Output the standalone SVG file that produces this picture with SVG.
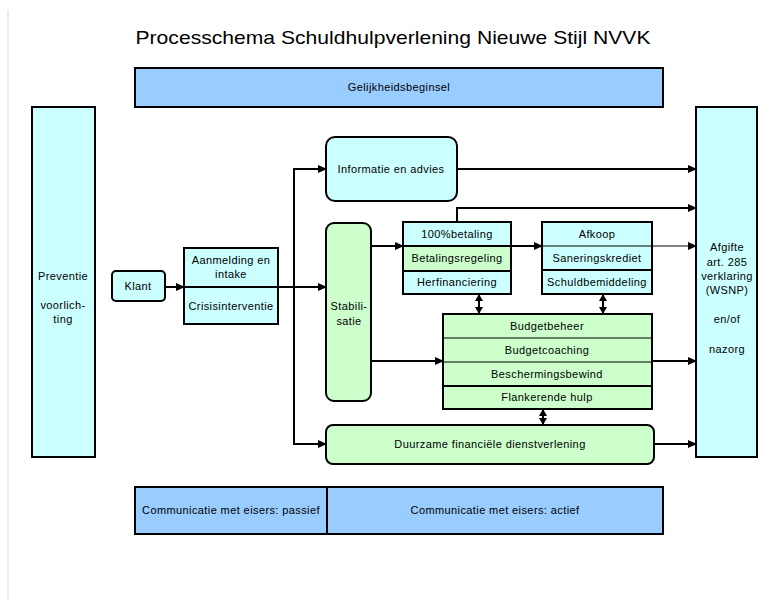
<svg xmlns="http://www.w3.org/2000/svg" width="782" height="604" viewBox="0 0 782 604">
<style>
  text { font-family: "Liberation Sans", Arial, sans-serif; font-size: 11px; fill: #000; text-anchor: middle; letter-spacing: 0.4px; }
  .title { font-size: 19px; letter-spacing: 0; }
  .box { stroke: #000; stroke-width: 2; }
  .cyan { fill: #ccffff; }
  .green { fill: #ccffcc; }
  .blue { fill: #99ccff; }
  .div { stroke: #000; stroke-width: 2; }
  .thin { stroke: #000; stroke-width: 1; }
  .conn { fill: none; stroke: #000; stroke-width: 2; }
</style>
<defs>
  <marker id="ah" markerUnits="userSpaceOnUse" markerWidth="9" markerHeight="8" refX="8" refY="4" orient="auto">
    <path d="M0,0 L9,4 L0,8 z" fill="#000"/>
  </marker>
  <marker id="dh" markerUnits="userSpaceOnUse" markerWidth="8" markerHeight="8" refX="6" refY="4" orient="auto-start-reverse">
    <path d="M0,0 L7,4 L0,8 z" fill="#000"/>
  </marker>
</defs>
<rect width="782" height="604" fill="#fff"/>
<line x1="8" y1="10" x2="8" y2="600" stroke="#d8d8d8" stroke-width="1"/>

<text class="title" x="393" y="44" textLength="515" lengthAdjust="spacingAndGlyphs">Processchema Schuldhulpverlening Nieuwe Stijl NVVK</text>

<g id="gelijkheid">
  <rect class="box blue" x="135" y="68" width="528" height="39"/>
  <text x="399" y="91">Gelijkheidsbeginsel</text>
</g>

<g id="preventie">
  <rect class="box cyan" x="32" y="107" width="63" height="350"/>
  <text x="63" y="280">Preventie</text>
  <text x="63" y="309">voorlich-</text>
  <text x="63" y="323">ting</text>
</g>

<g id="klant">
  <rect class="box cyan" x="112" y="271" width="53" height="30" rx="4"/>
  <text x="138" y="290">Klant</text>
</g>

<g id="aanmelding">
  <rect class="box cyan" x="184" y="248" width="94" height="76"/>
  <line class="div" x1="184" y1="287" x2="278" y2="287"/>
  <text x="231" y="264">Aanmelding en</text>
  <text x="231" y="278">intake</text>
  <text x="231" y="310">Crisisinterventie</text>
</g>

<g id="informatie">
  <rect class="box cyan" x="326" y="137" width="131" height="64" rx="9"/>
  <text x="391" y="173">Informatie en advies</text>
</g>

<g id="stabilisatie">
  <rect class="box green" x="326" y="223" width="45" height="178" rx="8"/>
  <text x="349" y="310">Stabili-</text>
  <text x="349" y="325">satie</text>
</g>

<g id="betaling">
  <rect class="cyan" x="403" y="222" width="108" height="24"/>
  <rect class="green" x="403" y="246" width="108" height="25"/>
  <rect class="cyan" x="403" y="271" width="108" height="23"/>
  <rect class="box" fill="none" x="403" y="222" width="108" height="72"/>
  <line class="div" x1="403" y1="246" x2="511" y2="246"/>
  <line class="div" x1="403" y1="271" x2="511" y2="271"/>
  <text x="457" y="238">100%betaling</text>
  <text x="457" y="262">Betalingsregeling</text>
  <text x="457" y="286">Herfinanciering</text>
</g>

<g id="afkoop">
  <rect class="box cyan" x="542" y="222" width="110" height="72"/>
  <line class="thin" x1="542" y1="246" x2="652" y2="246"/>
  <line class="div" x1="542" y1="270" x2="652" y2="270"/>
  <text x="597" y="238">Afkoop</text>
  <text x="597" y="262">Saneringskrediet</text>
  <text x="597" y="286">Schuldbemiddeling</text>
</g>

<g id="budget">
  <rect class="box green" x="443" y="314" width="209" height="95"/>
  <line class="thin" x1="443" y1="338" x2="652" y2="338"/>
  <line class="thin" x1="443" y1="362" x2="652" y2="362"/>
  <line class="div" x1="443" y1="386" x2="652" y2="386"/>
  <text x="547" y="330">Budgetbeheer</text>
  <text x="547" y="354">Budgetcoaching</text>
  <text x="547" y="378">Beschermingsbewind</text>
  <text x="547" y="401">Flankerende hulp</text>
</g>

<g id="duurzame">
  <rect class="box green" x="326" y="425" width="328" height="39" rx="7"/>
  <text x="490" y="448">Duurzame financiële dienstverlening</text>
</g>

<g id="afgifte">
  <rect class="box cyan" x="696" y="107" width="61" height="350"/>
  <text x="727" y="251">Afgifte</text>
  <text x="727" y="266">art. 285</text>
  <text x="727" y="280">verklaring</text>
  <text x="727" y="294">(WSNP)</text>
  <text x="727" y="323">en/of</text>
  <text x="727" y="353">nazorg</text>
</g>

<g id="communicatie">
  <rect class="box blue" x="135" y="487" width="192" height="47"/>
  <rect class="box blue" x="327" y="487" width="336" height="47"/>
  <text x="231" y="514">Communicatie met eisers: passief</text>
  <text x="495" y="514">Communicatie met eisers: actief</text>
</g>

<g id="connectors">
  <line class="conn" x1="165" y1="287" x2="184" y2="287" marker-end="url(#ah)"/>
  <line class="conn" x1="278" y1="287" x2="326" y2="287" marker-end="url(#ah)"/>
  <path class="conn" d="M326,169 H294 V444 H326"/>
  <line class="conn" x1="300" y1="169" x2="326" y2="169" marker-end="url(#ah)"/>
  <line class="conn" x1="300" y1="444" x2="326" y2="444" marker-end="url(#ah)"/>
  <line class="conn" x1="457" y1="169" x2="696" y2="169" marker-end="url(#ah)"/>
  <path class="conn" d="M457,222 V208 H696" marker-end="url(#ah)"/>
  <line class="conn" x1="371" y1="246" x2="403" y2="246" marker-end="url(#ah)"/>
  <line class="conn" x1="511" y1="246" x2="542" y2="246" marker-end="url(#ah)"/>
  <line class="thin" x1="652" y1="246" x2="696" y2="246" marker-end="url(#ah)"/>
  <line class="conn" x1="371" y1="361" x2="443" y2="361" marker-end="url(#ah)"/>
  <line class="conn" x1="652" y1="361" x2="696" y2="361" marker-end="url(#ah)"/>
  <line class="conn" x1="654" y1="444" x2="696" y2="444" marker-end="url(#ah)"/>
  <line class="conn" x1="479" y1="295" x2="479" y2="313" marker-start="url(#dh)" marker-end="url(#dh)"/>
  <line class="conn" x1="603" y1="295" x2="603" y2="313" marker-start="url(#dh)" marker-end="url(#dh)"/>
  <line class="conn" x1="543" y1="410" x2="543" y2="424" marker-start="url(#dh)" marker-end="url(#dh)"/>
</g>
</svg>
